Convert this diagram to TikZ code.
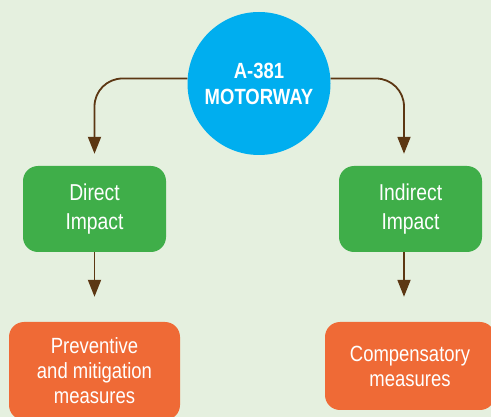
\documentclass[tikz,border=0pt]{standalone}
\usepackage{fontspec}
\setmainfont[FakeStretch=0.84]{Liberation Sans}
\usetikzlibrary{arrows.meta}
\usetikzlibrary{positioning}
\definecolor{bgcol}{HTML}{E5F0DF}
\definecolor{roadblue}{HTML}{00AEEF}
\definecolor{impactgreen}{HTML}{3FAE49}
\definecolor{measureorange}{HTML}{EF6A36}
\definecolor{linkbrown}{HTML}{5C3713}

\begin{document}
\begin{tikzpicture}[x=1pt,y=-1pt,
    impact/.style={rectangle, rounded corners=15pt, fill=impactgreen, text=white, align=center,
        minimum width=143pt, minimum height=86pt, inner sep=0pt, font=\fontsize{23}{29}\selectfont},
    measure/.style={rectangle, rounded corners=15pt, fill=measureorange, text=white, align=center,
        inner sep=0pt, font=\fontsize{22}{25}\selectfont}]
    \tikzset{link/.style={draw=linkbrown, line width=1.8pt, -{Triangle[width=13pt,length=17pt]}}}
    \fill[bgcol] (0,0) rectangle (491,417);
    \useasboundingbox (0,0) rectangle (491,417);

    \node[circle, fill=roadblue, text=white, minimum size=143pt, inner sep=0pt, align=center,
        font=\bfseries\fontsize{22}{26}\selectfont] (motorway) at (259,83.5) {A-381\\MOTORWAY};

    \node[impact] (direct) at (94.5,209) {Direct\\Impact};
    \node[impact] (indirect) at (410.5,209) {Indirect\\Impact};

    \node[measure, minimum width=171pt, minimum height=98pt] (preventive) at (94.5,371) {Preventive\\and mitigation\\measures};
    \node[measure, minimum width=170pt, minimum height=88pt] (compensatory) at (410,366) {Compensatory\\measures};

    % top branches
    \draw[link, rounded corners=28pt, shorten >=12pt] (motorway.176) -| (direct.north);
    \draw[link, rounded corners=28pt, shorten >=12pt] (motorway.4) -| ([xshift=-6.5pt]indirect.north);
    % lower links
    \draw[link, shorten >=25pt] (direct.south) -- (preventive.north);
    \draw[link, shorten >=25pt] ([xshift=-6.5pt]indirect.south) -- ([xshift=-6pt]compensatory.north);
\end{tikzpicture}
\end{document}
